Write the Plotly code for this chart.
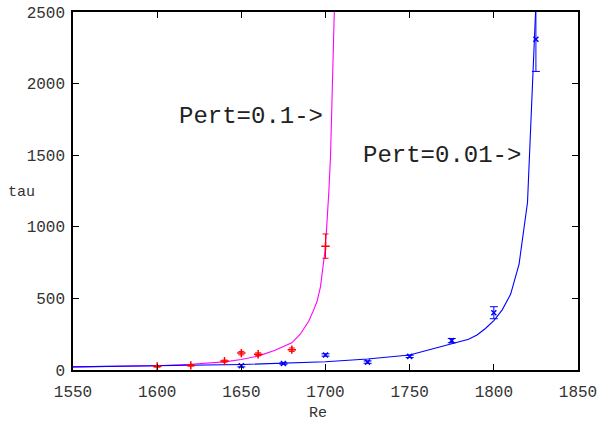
import plotly.graph_objects as go

# Measured data, Pert=0.1 (red)
re_p1 = [1600, 1620, 1640, 1650, 1660, 1680, 1700]
tau_p1 = [25, 32, 62, 118, 110, 142, 865]
err_p1 = [5, 5, 7, 12, 10, 12, 85]

# Measured data, Pert=0.01 (blue)
re_p01 = [1650, 1675, 1700, 1725, 1750, 1775, 1800, 1825]
tau_p01 = [30, 45, 105, 55, 95, 205, 400, 2310]
err_p01 = [8, 5, 8, 8, 8, 15, 42, 225]

# Fit curves
fit1_re = [1550, 1600, 1620, 1640, 1650, 1660, 1670, 1680, 1685, 1690, 1693, 1695, 1697, 1699, 1700, 1702, 1703, 1705, 1707]
fit1_tau = [22, 30, 40, 57, 73, 97, 138, 190, 250, 340, 420, 480, 580, 760, 860, 1250, 1500, 2400, 3300]

fit2_re = [1550, 1600, 1650, 1700, 1725, 1750, 1775, 1785, 1790, 1795, 1800, 1805, 1810, 1815, 1820, 1825]
fit2_tau = [22, 28, 38, 58, 77, 105, 180, 215, 245, 290, 345, 420, 530, 740, 1170, 2560]

x_ticks = [1550, 1600, 1650, 1700, 1750, 1800, 1850]
y_ticks = [0, 500, 1000, 1500, 2000, 2500]

FONT = "Liberation Mono"
TXT = "#333333"

fig = go.Figure()
fig.add_trace(go.Scatter(x=fit1_re, y=fit1_tau, mode="lines",
                         line=dict(color="#ff00ff", width=1.1), showlegend=False))
fig.add_trace(go.Scatter(x=fit2_re, y=fit2_tau, mode="lines",
                         line=dict(color="#0000ff", width=1.1), showlegend=False))
fig.add_trace(go.Scatter(x=re_p1, y=tau_p1, mode="markers",
                         marker=dict(symbol="cross-thin", size=6, color="#ff0000",
                                     line=dict(color="#ff0000", width=1.5)),
                         error_y=dict(type="data", array=err_p1, color="#ff0000",
                                      thickness=1, width=3),
                         showlegend=False))
fig.add_trace(go.Scatter(x=re_p01, y=tau_p01, mode="markers",
                         marker=dict(symbol="x-thin", size=5, color="#0000ff",
                                     line=dict(color="#0000ff", width=1.5)),
                         error_y=dict(type="data", array=err_p01, color="#0000ff",
                                      thickness=1, width=4),
                         showlegend=False))

fig.add_annotation(x=1612, y=1767, text="Pert=0.1->", showarrow=False,
                   xanchor="left", yanchor="middle",
                   font=dict(family=FONT, size=24, color="#222222"))
fig.add_annotation(x=1721, y=1501, text="Pert=0.01->", showarrow=False,
                   xanchor="left", yanchor="middle",
                   font=dict(family=FONT, size=24, color="#222222"))
fig.add_annotation(x=-0.101, y=0.497, xref="paper", yref="paper", text="tau",
                   showarrow=False, xanchor="center", yanchor="middle",
                   font=dict(family=FONT, size=15, color=TXT))
fig.add_annotation(x=0.486, y=0, xref="paper", yref="paper", text="Re",
                   showarrow=False, xanchor="center", yanchor="middle", yshift=-43,
                   font=dict(family=FONT, size=15, color=TXT))

axis_common = dict(showgrid=False, zeroline=False, showline=True, mirror="allticks",
                   linecolor="black", linewidth=1.5, ticks="inside", ticklen=6,
                   tickcolor="black", tickwidth=1, automargin=False,
                   tickfont=dict(family=FONT, size=16, color=TXT))

fig.update_layout(
    width=607, height=421,
    margin=dict(l=73, r=29, t=12, b=51),
    plot_bgcolor="white", paper_bgcolor="white",
    xaxis=dict(range=[1550, 1850], tickvals=x_ticks, ticklabelstandoff=6, **axis_common),
    yaxis=dict(range=[0, 2500], tickvals=y_ticks, ticklabelstandoff=3, **axis_common),
)

fig.write_html("out.html")
